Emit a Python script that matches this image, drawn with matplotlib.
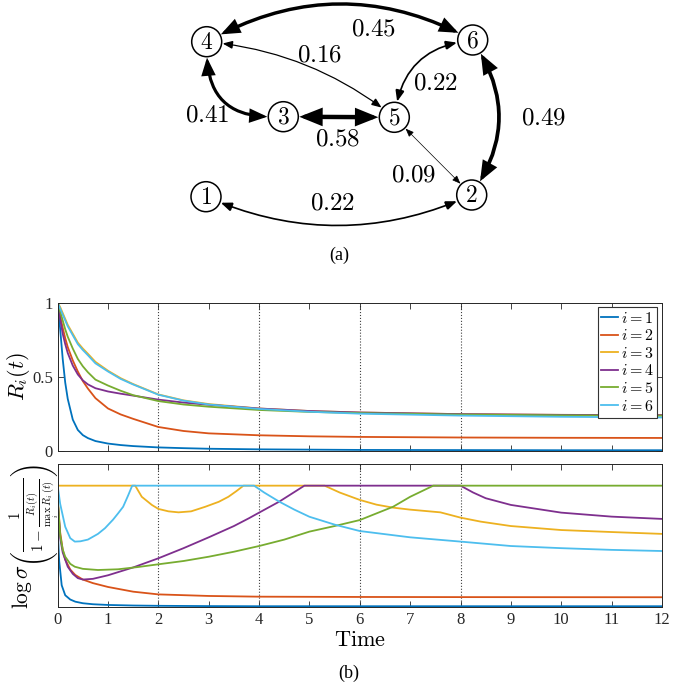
import matplotlib.pyplot as plt
from matplotlib.patches import Circle, FancyArrowPatch

plt.rcParams['mathtext.fontset'] = 'cm'
plt.rcParams['font.family'] = ['Liberation Serif', 'DejaVu Serif']

# ---- (a) graph: edges and weights
edge_src = [4, 4, 4, 3, 5, 6, 5, 1]
edge_dst = [6, 5, 3, 5, 6, 2, 2, 2]
edge_weight = [0.45, 0.16, 0.41, 0.58, 0.22, 0.49, 0.09, 0.22]

# ---- (b) top panel: R_i(t)
t_R = [0, 0.05, 0.1, 0.15, 0.2, 0.3, 0.4, 0.5, 0.6, 0.75, 1, 1.25, 1.5, 2, 2.5, 3, 4, 5, 6, 8, 10, 12]
R1 = [1, 0.82, 0.62, 0.46, 0.35, 0.21, 0.14, 0.105, 0.085, 0.065, 0.048, 0.038, 0.031, 0.022, 0.017, 0.013, 0.009, 0.007, 0.005, 0.004, 0.003, 0.003]
R2 = [1, 0.91, 0.83, 0.76, 0.70, 0.61, 0.535, 0.47, 0.42, 0.355, 0.285, 0.245, 0.215, 0.16, 0.133, 0.117, 0.104, 0.097, 0.093, 0.089, 0.087, 0.086]
R3 = [1, 0.97, 0.93, 0.89, 0.85, 0.79, 0.73, 0.69, 0.655, 0.60, 0.54, 0.49, 0.45, 0.38, 0.34, 0.315, 0.285, 0.268, 0.258, 0.247, 0.242, 0.24]
R4 = [1, 0.89, 0.79, 0.72, 0.66, 0.575, 0.515, 0.475, 0.448, 0.422, 0.40, 0.385, 0.372, 0.345, 0.325, 0.31, 0.285, 0.268, 0.258, 0.247, 0.242, 0.24]
R5 = [1, 0.94, 0.88, 0.82, 0.77, 0.69, 0.62, 0.57, 0.53, 0.48, 0.44, 0.405, 0.375, 0.335, 0.312, 0.297, 0.275, 0.262, 0.254, 0.244, 0.239, 0.236]
R6 = [1, 0.96, 0.92, 0.88, 0.84, 0.78, 0.72, 0.68, 0.645, 0.59, 0.535, 0.485, 0.447, 0.378, 0.338, 0.312, 0.282, 0.263, 0.25, 0.237, 0.229, 0.224]

# ---- (b) bottom panel: log sigma(...) (no y scale shown, normalised 0..1)
t_S1 = [0, 0.03, 0.08, 0.15, 0.25, 0.35, 0.5, 0.7, 1, 1.5, 2, 3, 4, 6, 8, 12]
S1 = [0.55, 0.32, 0.15, 0.08, 0.05, 0.035, 0.024, 0.017, 0.012, 0.008, 0.006, 0.004, 0.003, 0.003, 0.003, 0.003]
t_S2 = [0, 0.05, 0.1, 0.15, 0.25, 0.35, 0.5, 0.7, 1, 1.5, 2, 3, 4, 6, 8, 12]
S2 = [0.75, 0.52, 0.40, 0.33, 0.26, 0.222, 0.19, 0.165, 0.138, 0.105, 0.086, 0.075, 0.07, 0.068, 0.067, 0.066]
t_S3 = [0, 1.54, 1.67, 1.87, 2, 2.2, 2.4, 2.65, 2.93, 3.2, 3.39, 3.55, 3.69, 5.3, 5.6, 6, 6.33, 6.66, 7, 7.6, 8, 8.4, 9, 10, 11, 12]
S3 = [0.848, 0.848, 0.77, 0.713, 0.685, 0.668, 0.661, 0.668, 0.70, 0.735, 0.77, 0.81, 0.848, 0.848, 0.80, 0.748, 0.715, 0.694, 0.68, 0.661, 0.624, 0.596, 0.565, 0.537, 0.523, 0.51]
t_S4 = [0, 0.05, 0.1, 0.2, 0.3, 0.4, 0.5, 0.7, 1, 1.5, 2, 2.5, 3, 3.5, 3.8, 4, 4.4, 4.9, 8.0, 8.25, 8.5, 9, 10, 11, 12]
S4 = [0.75, 0.48, 0.38, 0.28, 0.23, 0.20, 0.19, 0.195, 0.22, 0.275, 0.339, 0.41, 0.486, 0.565, 0.62, 0.659, 0.736, 0.848, 0.848, 0.80, 0.76, 0.713, 0.659, 0.631, 0.615]
t_S5 = [0, 0.05, 0.1, 0.15, 0.25, 0.34, 0.5, 0.8, 1.2, 1.6, 2, 2.5, 3, 3.5, 4, 4.5, 5, 5.5, 6, 6.66, 7, 7.46, 12]
S5 = [0.77, 0.50, 0.40, 0.35, 0.30, 0.28, 0.265, 0.257, 0.262, 0.278, 0.297, 0.32, 0.35, 0.385, 0.425, 0.47, 0.526, 0.565, 0.607, 0.70, 0.77, 0.848, 0.848]
t_S6 = [0, 0.05, 0.15, 0.25, 0.34, 0.45, 0.6, 0.8, 0.94, 1.1, 1.2, 1.3, 1.4, 1.48, 3.9, 4.1, 4.4, 4.7, 5, 5.5, 6, 7, 8, 9, 10, 11, 12]
S6 = [0.848, 0.72, 0.56, 0.48, 0.456, 0.458, 0.47, 0.51, 0.55, 0.61, 0.654, 0.70, 0.78, 0.848, 0.848, 0.80, 0.736, 0.68, 0.63, 0.575, 0.53, 0.486, 0.456, 0.425, 0.41, 0.398, 0.39]

series_labels = ['$i = 1$', '$i = 2$', '$i = 3$', '$i = 4$', '$i = 5$', '$i = 6$']
colors = ['#0072BD', '#D95319', '#EDB120', '#7E2F8E', '#77AC30', '#4DBEEE']

# layout of the graph, in pixels of the 694x689 image
W, H = 694, 689
node_xy = {1: (206, 196.7), 2: (471.7, 195), 3: (283.3, 116.7),
           4: (206.7, 41.7), 5: (394.3, 117.3), 6: (472.7, 40)}
edge_rad = [-0.27, -0.15, 0.55, 0.0, -0.4, -0.33, 0.0, 0.22]
label_xy = [(374, 28), (320, 53), (207, 113), (338, 137),
            (436, 82), (543.5, 116.7), (413.5, 174), (332.5, 202)]
node_r = 15


def fpos(x, y):
    return x / W, 1 - y / H


fig = plt.figure(figsize=(6.94, 6.89), dpi=100)

# graph drawn in pixel coordinates
gax = fig.add_axes([0, 0, 1, 1])
gax.set_xlim(0, W)
gax.set_ylim(H, 0)
gax.axis('off')

for s, d, w, rad in zip(edge_src, edge_dst, edge_weight, edge_rad):
    hl = 4 + 12 * w
    arr = FancyArrowPatch(node_xy[s], node_xy[d],
                          arrowstyle=f'<|-|>,head_length={hl},head_width={0.4 * hl}',
                          connectionstyle=f'arc3,rad={rad}', mutation_scale=1,
                          lw=5.5 * w, color='black', shrinkA=11.5, shrinkB=11.5,
                          joinstyle='miter')
    gax.add_patch(arr)

for w, (lx, ly) in zip(edge_weight, label_xy):
    gax.text(lx, ly + 8, f'${w:.2f}$', fontsize=18, ha='center', va='baseline')

for n, (x, y) in node_xy.items():
    gax.add_patch(Circle((x, y), node_r, fc='white', ec='black', lw=1.1, zorder=3))
    gax.text(x, y + 7, f'${n}$', fontsize=17, ha='center', va='baseline', zorder=4)

fig.text(*fpos(339, 255), '(a)', fontsize=13, ha='center', va='center')

# ---- panel (b)
ax1 = fig.add_axes([0.0831, 0.3459, 0.8707, 0.2148])
ax2 = fig.add_axes([0.0831, 0.1195, 0.8707, 0.2071])

for R, c, lab in zip([R1, R2, R3, R4, R5, R6], colors, series_labels):
    ax1.plot(t_R, R, color=c, lw=1.3, label=lab)

for t, S, c in zip([t_S1, t_S2, t_S3, t_S4, t_S5, t_S6], [S1, S2, S3, S4, S5, S6], colors):
    ax2.plot(t, S, color=c, lw=1.3)

for ax in (ax1, ax2):
    ax.set_xlim(0, 12)
    ax.set_ylim(0, 1)
    ax.set_xticks(range(13))
    for xv in [2, 4, 6, 8]:
        ax.axvline(xv, ls=':', color='0.25', lw=0.8, zorder=0.5)
    ax.tick_params(direction='in', top=True, right=True, length=4, width=0.6,
                   labelsize=12, colors='0.15')
    for sp in ax.spines.values():
        sp.set_color('0.15')
        sp.set_linewidth(0.7)

ax1.set_xticklabels([])
ax1.set_yticks([0, 0.5, 1])
ax1.set_yticklabels(['0', '0.5', '1'])
ax2.set_yticks([])

leg = ax1.legend(loc='upper right', fontsize=11.5, fancybox=False, framealpha=1,
                 edgecolor='0.2', borderpad=0.2, labelspacing=0.1,
                 handlelength=1.1, handletextpad=0.15, borderaxespad=0.3)
leg.get_frame().set_linewidth(0.8)

fig.text(*fpos(18, 377), '$R_i(t)$', fontsize=16, rotation=90, ha='center', va='center')
fig.text(*fpos(35, 536), r'$\log\sigma\left(\frac{1}{1-\frac{R_i(t)}{\max_i\,R_i(t)}}\right)$',
         fontsize=15.5, rotation=90, ha='center', va='center')
fig.text(*fpos(360, 641), r'$\mathrm{Time}$', fontsize=16, ha='center', va='center')
fig.text(*fpos(349, 673), '(b)', fontsize=13, ha='center', va='center')

fig.savefig('out.png', dpi=100)
